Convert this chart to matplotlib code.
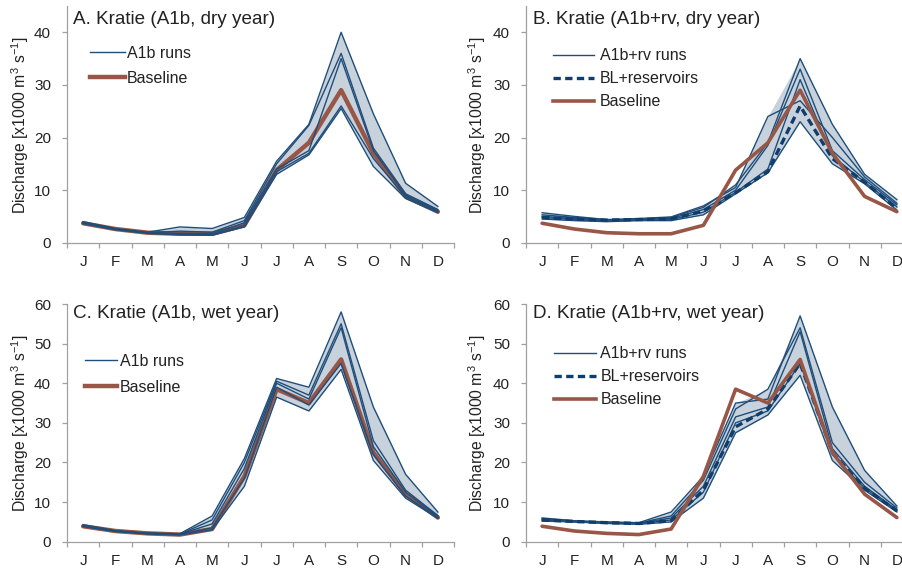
import numpy as np
import matplotlib
matplotlib.use("Agg")
import matplotlib.pyplot as plt
from matplotlib.lines import Line2D

plt.rcParams['font.family'] = ['Liberation Sans', 'DejaVu Sans']
plt.rcParams['mathtext.fontset'] = 'custom'
plt.rcParams['mathtext.rm'] = 'Liberation Sans'
plt.rcParams['mathtext.default'] = 'regular'

months = ['J', 'F', 'M', 'A', 'M', 'J', 'J', 'A', 'S', 'O', 'N', 'D']

# A. dry year, A1b
base_dry = [3.7, 2.6, 1.9, 1.7, 1.7, 3.3, 13.8, 19.0, 29.0, 17.0, 8.8, 5.9]
runs_a = [
    [4.0, 2.7, 2.0, 3.0, 2.7, 4.8, 15.5, 22.5, 40.0, 24.5, 11.3, 6.9],
    [3.9, 2.6, 1.9, 2.2, 2.0, 4.2, 15.0, 22.3, 36.0, 18.0, 9.3, 6.3],
    [3.8, 2.6, 1.9, 1.8, 1.7, 3.8, 14.0, 17.5, 35.0, 17.5, 9.0, 6.1],
    [3.7, 2.5, 1.8, 1.6, 1.5, 3.3, 13.5, 17.0, 26.0, 16.0, 8.7, 5.9],
    [3.6, 2.5, 1.8, 1.5, 1.4, 3.0, 13.0, 16.7, 25.5, 14.5, 8.4, 5.7],
]

# B. dry year, A1b + reservoirs
resv_dry = [4.8, 4.5, 4.3, 4.4, 4.5, 6.0, 9.5, 13.5, 26.0, 16.0, 11.5, 6.5]
runs_b = [
    [5.7, 5.0, 4.4, 4.6, 4.9, 7.0, 10.5, 24.0, 27.0, 20.0, 12.5, 7.5],
    [5.3, 4.8, 4.3, 4.5, 4.8, 6.7, 11.0, 19.0, 35.0, 22.5, 13.0, 8.2],
    [5.0, 4.6, 4.2, 4.4, 4.6, 6.3, 10.0, 18.5, 33.0, 17.5, 12.0, 7.2],
    [4.8, 4.4, 4.1, 4.3, 4.4, 5.8, 9.6, 14.0, 31.0, 16.5, 11.5, 6.8],
    [4.5, 4.2, 4.0, 4.2, 4.2, 5.3, 9.3, 13.3, 23.0, 15.0, 11.2, 6.2],
]

# C. wet year, A1b
base_wet = [3.9, 2.7, 2.1, 1.8, 3.2, 16.5, 38.5, 35.0, 46.0, 22.5, 12.0, 6.1]
runs_c = [
    [4.3, 2.8, 2.2, 2.0, 6.5, 21.0, 41.2, 39.0, 58.0, 34.0, 17.0, 7.5],
    [4.1, 2.7, 2.1, 1.9, 5.5, 20.0, 40.5, 37.0, 55.0, 25.5, 13.0, 6.6],
    [4.0, 2.7, 2.1, 1.9, 4.5, 18.5, 40.0, 36.0, 54.0, 24.0, 12.5, 6.3],
    [3.9, 2.6, 2.0, 1.8, 3.5, 16.0, 39.0, 34.5, 45.0, 22.0, 11.5, 6.1],
    [3.8, 2.6, 2.0, 1.7, 3.0, 14.0, 36.5, 33.0, 43.5, 20.5, 11.0, 5.9],
]

# D. wet year, A1b + reservoirs
resv_wet = [5.5, 5.1, 4.8, 4.6, 5.3, 13.0, 29.0, 33.5, 45.0, 22.5, 13.5, 7.8]
runs_d = [
    [6.0, 5.3, 5.0, 4.8, 7.5, 16.5, 35.0, 36.0, 57.0, 34.0, 18.0, 9.0],
    [5.8, 5.2, 4.9, 4.7, 6.5, 15.5, 33.5, 38.5, 54.0, 25.0, 15.0, 8.5],
    [5.6, 5.1, 4.8, 4.6, 6.0, 14.0, 31.5, 34.0, 53.0, 23.5, 14.0, 8.0],
    [5.4, 5.0, 4.7, 4.5, 5.5, 12.5, 30.0, 33.0, 45.0, 22.0, 13.5, 7.8],
    [5.2, 5.0, 4.6, 4.4, 5.0, 11.0, 27.5, 32.0, 42.0, 20.5, 13.0, 7.5],
]

RUN_C = '#1f4e7a'
FILL_C = '#c8d2dc'
BASE_C = '#985646'
RES_C = '#0f3e6c'
AX_C = '#a0a0a0'
TXT_C = '#222222'

W, H = 902, 571
fig = plt.figure(figsize=(W / 100, H / 100), dpi=100)


def px_axes(left, top, right, bottom):
    return fig.add_axes([left / W, 1 - bottom / H, (right - left) / W, (bottom - top) / H])


def draw(ax, runs, base, resv, ymax, yticks, base_on_top, base_lw):
    x = np.arange(12)
    r = np.array(runs)
    ax.fill_between(x, r.min(axis=0), r.max(axis=0), color=FILL_C, lw=0, zorder=1)
    for run in runs:
        ax.plot(x, run, color=RUN_C, lw=1.0, zorder=3)
    ax.plot(x, base, color=BASE_C, lw=base_lw, zorder=5 if base_on_top else 2,
            solid_capstyle='round', solid_joinstyle='round')
    if resv is not None:
        ax.plot(x, resv, color=RES_C, lw=2.4, ls=(0, (2.2, 1.3)), zorder=4)
    ax.set_xlim(-0.5, 11.5)
    ax.set_ylim(0, ymax)
    ax.set_yticks(yticks)
    ax.set_xticks(np.arange(-0.5, 12, 1))
    ax.set_xticklabels([])
    ax.set_xticks(x, minor=True)
    ax.set_xticklabels(months, minor=True)
    ax.tick_params(axis='x', which='major', length=3.5, color=AX_C, width=0.9)
    ax.tick_params(axis='x', which='minor', length=0, pad=9, labelsize=11, labelcolor=TXT_C)
    ax.tick_params(axis='y', length=3.5, color=AX_C, width=0.9, pad=8, labelsize=11, labelcolor=TXT_C)
    for s in ['top', 'right']:
        ax.spines[s].set_visible(False)
    for s in ['left', 'bottom']:
        ax.spines[s].set_color(AX_C)
        ax.spines[s].set_linewidth(0.9)
    ax.set_facecolor('none')


ylab = 'Discharge [x1000 m$^3$ s$^{-1}$]'

panels = [
    # axes box, runs, base, resv, ymax, ticks, base on top, base lw, title, title pos, ylabel pos,
    # legend (label, top-left px, labelspacing, handlelength, handletextpad)
    ((67, 6, 454, 242.7), runs_a, base_dry, None, 45, range(0, 41, 10), False, 3.2,
     'A. Kratie (A1b, dry year)', (73, 20), (20, 125), ('A1b runs', (90, 46), 0.62, 2.2, 0.12)),
    ((526, 6, 913, 242.7), runs_b, base_dry, resv_dry, 45, range(0, 41, 10), True, 2.6,
     'B. Kratie (A1b+rv, dry year)', (533, 20), (477, 125), ('A1b+rv runs', (553, 48.5), 0.5, 2.55, 0.37)),
    ((67, 304, 454, 541.7), runs_c, base_wet, None, 60, range(0, 61, 10), False, 3.2,
     'C. Kratie (A1b, wet year)', (73, 313), (20, 423), ('A1b runs', (85, 353.5), 0.72, 2.0, 0.2)),
    ((526, 304, 913, 541.7), runs_d, base_wet, resv_wet, 60, range(0, 61, 10), True, 2.6,
     'D. Kratie (A1b+rv, wet year)', (533, 313), (477, 423), ('A1b+rv runs', (554, 346.5), 0.5, 2.6, 0.3)),
]

for box, runs, base, resv, ymax, ticks, top, blw, title, tpos, lpos, leg in panels:
    ax = px_axes(*box)
    draw(ax, runs, base, resv, ymax, ticks, top, blw)
    fig.text(tpos[0] / W, 1 - tpos[1] / H, title, fontsize=13.6, color=TXT_C, ha='left', va='center')
    fig.text(lpos[0] / W, 1 - lpos[1] / H, ylab, fontsize=11.3, color=TXT_C, rotation=90,
             ha='center', va='center')
    handles = [Line2D([], [], color=RUN_C, lw=1.0)]
    labels = [leg[0]]
    if resv is not None:
        handles.append(Line2D([], [], color=RES_C, lw=2.4, ls=(0, (2.2, 1.3))))
        labels.append('BL+reservoirs')
    handles.append(Line2D([], [], color=BASE_C, lw=blw))
    labels.append('Baseline')
    ax.legend(handles, labels, loc='upper left', frameon=False, fontsize=11.5,
              bbox_to_anchor=(leg[1][0] / W, 1 - leg[1][1] / H), bbox_transform=fig.transFigure,
              borderpad=0, borderaxespad=0, handlelength=leg[3], handletextpad=leg[4],
              labelspacing=leg[2], labelcolor=TXT_C)

fig.savefig('out.png', dpi=100)
